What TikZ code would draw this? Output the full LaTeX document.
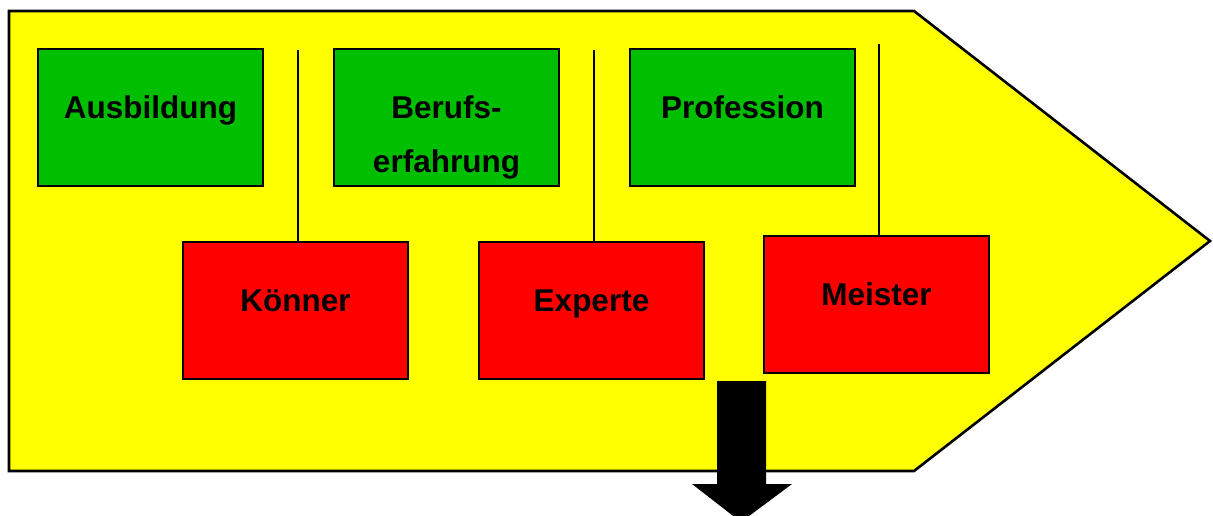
\documentclass[tikz,border=0pt]{standalone}
\usepackage{fontspec}
\setmainfont{Liberation Sans}
\definecolor{boxgreen}{RGB}{0,190,0}
\definecolor{bandyellow}{RGB}{255,255,0}
\begin{document}
\begin{tikzpicture}[x=1pt, y=-1pt,
        stage/.style={draw=black, line width=2.6pt, minimum width=225pt, minimum height=137pt, inner sep=0pt, outer sep=0pt, anchor=north west},
        goal/.style={stage, fill=boxgreen},
        role/.style={stage, fill=red},
        tag/.style={label={[anchor=base, label distance=-69pt, font=\bfseries\fontsize{31.5}{36}\selectfont]north:#1}},
        link/.style={black, line width=2.4pt}]
        \useasboundingbox (0,0) rectangle (1213,515);

        \filldraw[fill=bandyellow, draw=black, line width=2.6pt] (9,11) -- (914,11) -- (1210,241) -- (914,471) -- (9,471) -- cycle;

        \node[goal, tag=Ausbildung] (ausbildung) at (38,49) {};
        \node[goal, tag=Berufs-, label={[anchor=base, label distance=-123pt, font=\bfseries\fontsize{31.5}{36}\selectfont]north:erfahrung}] (beruf) at (334,49) {};
        \node[goal, tag=Profession] (profession) at (630,49) {};

        \node[role, tag=Könner] (koenner) at (183,242) {};
        \node[role, tag=Experte] (experte) at (479,242) {};
        \node[role, tag=Meister] (meister) at (764,236) {};

        \coordinate (t1) at (298,50);
        \coordinate (t2) at (594,50);
        \coordinate (t3) at (879,44);
        \draw[link] (t1) -- (t1 |- koenner.north);
        \draw[link] (t2) -- (t2 |- experte.north);
        \draw[link] (t3) -- (t3 |- meister.north);

        \fill[black] (717,381) -- (766,381) -- (766,484) -- (792,484) -- (741,522) -- (692,484) -- (717,484) -- cycle;
    \end{tikzpicture}
\end{document}
